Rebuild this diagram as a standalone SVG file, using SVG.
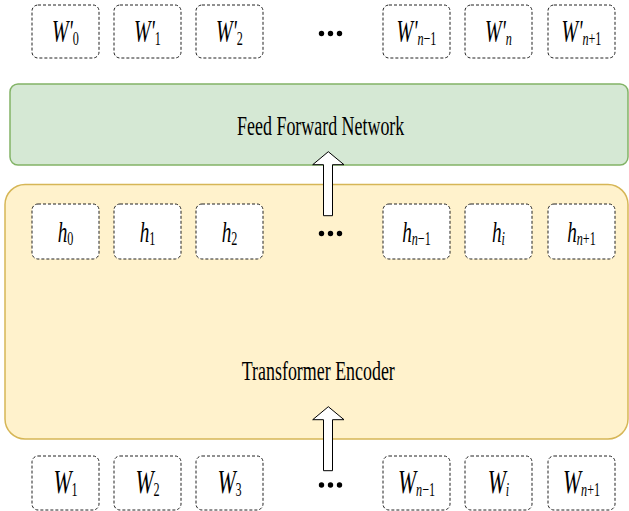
<svg xmlns="http://www.w3.org/2000/svg" width="629" height="511" viewBox="0 0 629 511" font-family="'Liberation Serif', 'Times New Roman', serif">
<style>
text{font-family:'Liberation Serif','Times New Roman',serif;fill:#000}
.t{font-size:28px}
.top{font-size:31px;font-style:italic}
.mid{font-size:30px;font-style:italic}
.bot{font-size:34px;font-style:italic}
.s{font-size:19px}
.u{font-style:normal}
.box{fill:#fff;stroke:#222;stroke-width:1;stroke-dasharray:3 2}
.arrow{fill:#fff;stroke:#000;stroke-width:1}
.dot{fill:#000}
</style>
<rect width="629" height="511" fill="#fff"/>
<g id="ffn">
<rect x="10" y="84" width="618" height="81" rx="8" fill="#d5e8d4" stroke="#82b366" stroke-width="1.5"/>
<text class="t" text-anchor="middle" transform="translate(320.7,135) scale(0.64,1)">Feed Forward Network</text>
</g>
<g id="encoder">
<rect x="5" y="184.5" width="623" height="254.5" rx="20" fill="#fff2cc" stroke="#d6b656" stroke-width="1.5"/>
<text class="t" text-anchor="middle" transform="translate(318.3,380) scale(0.64,1)">Transformer Encoder</text>
</g>
<g id="out0"><rect class="box" x="32" y="5" width="67" height="53" rx="6"/><text class="top" text-anchor="middle" transform="translate(65.5,41.7) scale(0.64,1)">W'<tspan class="s u" dy="3">0</tspan></text></g>
<g id="out1"><rect class="box" x="114" y="5" width="67" height="53" rx="6"/><text class="top" text-anchor="middle" transform="translate(147.5,41.7) scale(0.64,1)">W'<tspan class="s u" dy="3">1</tspan></text></g>
<g id="out2"><rect class="box" x="196" y="5" width="67" height="53" rx="6"/><text class="top" text-anchor="middle" transform="translate(229.5,41.7) scale(0.64,1)">W'<tspan class="s u" dy="3">2</tspan></text></g>
<g id="outdots"><circle class="dot" cx="321.5" cy="33.5" r="2.7"/><circle class="dot" cx="330.5" cy="33.5" r="2.7"/><circle class="dot" cx="339.5" cy="33.5" r="2.7"/></g>
<g id="outn1"><rect class="box" x="383" y="5" width="67" height="53" rx="6"/><text class="top" text-anchor="middle" transform="translate(416.5,41.7) scale(0.64,1)">W'<tspan class="s" dy="3">n</tspan><tspan class="s u">−1</tspan></text></g>
<g id="outn"><rect class="box" x="465" y="5" width="67" height="53" rx="6"/><text class="top" text-anchor="middle" transform="translate(498.5,41.7) scale(0.64,1)">W'<tspan class="s" dy="3">n</tspan></text></g>
<g id="outn2"><rect class="box" x="548" y="5" width="67" height="53" rx="6"/><text class="top" text-anchor="middle" transform="translate(581.5,41.7) scale(0.64,1)">W'<tspan class="s" dy="3">n</tspan><tspan class="s u">+1</tspan></text></g>
<g id="h0"><rect class="box" x="32" y="204" width="67" height="55" rx="6"/><text class="mid" text-anchor="middle" transform="translate(65.5,241.7) scale(0.64,1)">h<tspan class="s u" dy="3">0</tspan></text></g>
<g id="h1"><rect class="box" x="114" y="204" width="67" height="55" rx="6"/><text class="mid" text-anchor="middle" transform="translate(147.5,241.7) scale(0.64,1)">h<tspan class="s u" dy="3">1</tspan></text></g>
<g id="h2"><rect class="box" x="196" y="204" width="67" height="55" rx="6"/><text class="mid" text-anchor="middle" transform="translate(229.5,241.7) scale(0.64,1)">h<tspan class="s u" dy="3">2</tspan></text></g>
<g id="hdots"><circle class="dot" cx="321.5" cy="233.5" r="2.7"/><circle class="dot" cx="330.5" cy="233.5" r="2.7"/><circle class="dot" cx="339.5" cy="233.5" r="2.7"/></g>
<g id="hn1"><rect class="box" x="383" y="204" width="67" height="55" rx="6"/><text class="mid" text-anchor="middle" transform="translate(416.5,241.7) scale(0.64,1)">h<tspan class="s" dy="3">n</tspan><tspan class="s u">−1</tspan></text></g>
<g id="hi"><rect class="box" x="465" y="204" width="67" height="55" rx="6"/><text class="mid" text-anchor="middle" transform="translate(498.5,241.7) scale(0.64,1)">h<tspan class="s" dy="3">i</tspan></text></g>
<g id="hn2"><rect class="box" x="548" y="204" width="67" height="55" rx="6"/><text class="mid" text-anchor="middle" transform="translate(581.5,241.7) scale(0.64,1)">h<tspan class="s" dy="3">n</tspan><tspan class="s u">+1</tspan></text></g>
<g id="in1"><rect class="box" x="32" y="456" width="67" height="54" rx="6"/><text class="bot" text-anchor="middle" transform="translate(65.5,492.7) scale(0.64,1)">W<tspan class="s u" dy="3.5">1</tspan></text></g>
<g id="in2"><rect class="box" x="114" y="456" width="67" height="54" rx="6"/><text class="bot" text-anchor="middle" transform="translate(147.5,492.7) scale(0.64,1)">W<tspan class="s u" dy="3.5">2</tspan></text></g>
<g id="in3"><rect class="box" x="196" y="456" width="67" height="54" rx="6"/><text class="bot" text-anchor="middle" transform="translate(229.5,492.7) scale(0.64,1)">W<tspan class="s u" dy="3.5">3</tspan></text></g>
<g id="indots"><circle class="dot" cx="321.5" cy="485" r="2.7"/><circle class="dot" cx="330.5" cy="485" r="2.7"/><circle class="dot" cx="339.5" cy="485" r="2.7"/></g>
<g id="inn1"><rect class="box" x="383" y="456" width="67" height="54" rx="6"/><text class="bot" text-anchor="middle" transform="translate(416.5,492.7) scale(0.64,1)">W<tspan class="s" dy="3.5">n</tspan><tspan class="s u">−1</tspan></text></g>
<g id="ini"><rect class="box" x="465" y="456" width="67" height="54" rx="6"/><text class="bot" text-anchor="middle" transform="translate(498.5,492.7) scale(0.64,1)">W<tspan class="s" dy="3.5">i</tspan></text></g>
<g id="inn2"><rect class="box" x="548" y="456" width="67" height="54" rx="6"/><text class="bot" text-anchor="middle" transform="translate(581.5,492.7) scale(0.64,1)">W<tspan class="s" dy="3.5">n</tspan><tspan class="s u">+1</tspan></text></g>
<g id="connectors">
<polygon class="arrow" points="328.3,151.7 344,164.7 332.5,164.7 332.5,215.7 323.5,215.7 323.5,164.7 312.7,164.7"/>
<polygon class="arrow" points="328.3,406.7 344,419.7 332.5,419.7 332.5,470.7 323.5,470.7 323.5,419.7 312.7,419.7"/>
</g>
</svg>
